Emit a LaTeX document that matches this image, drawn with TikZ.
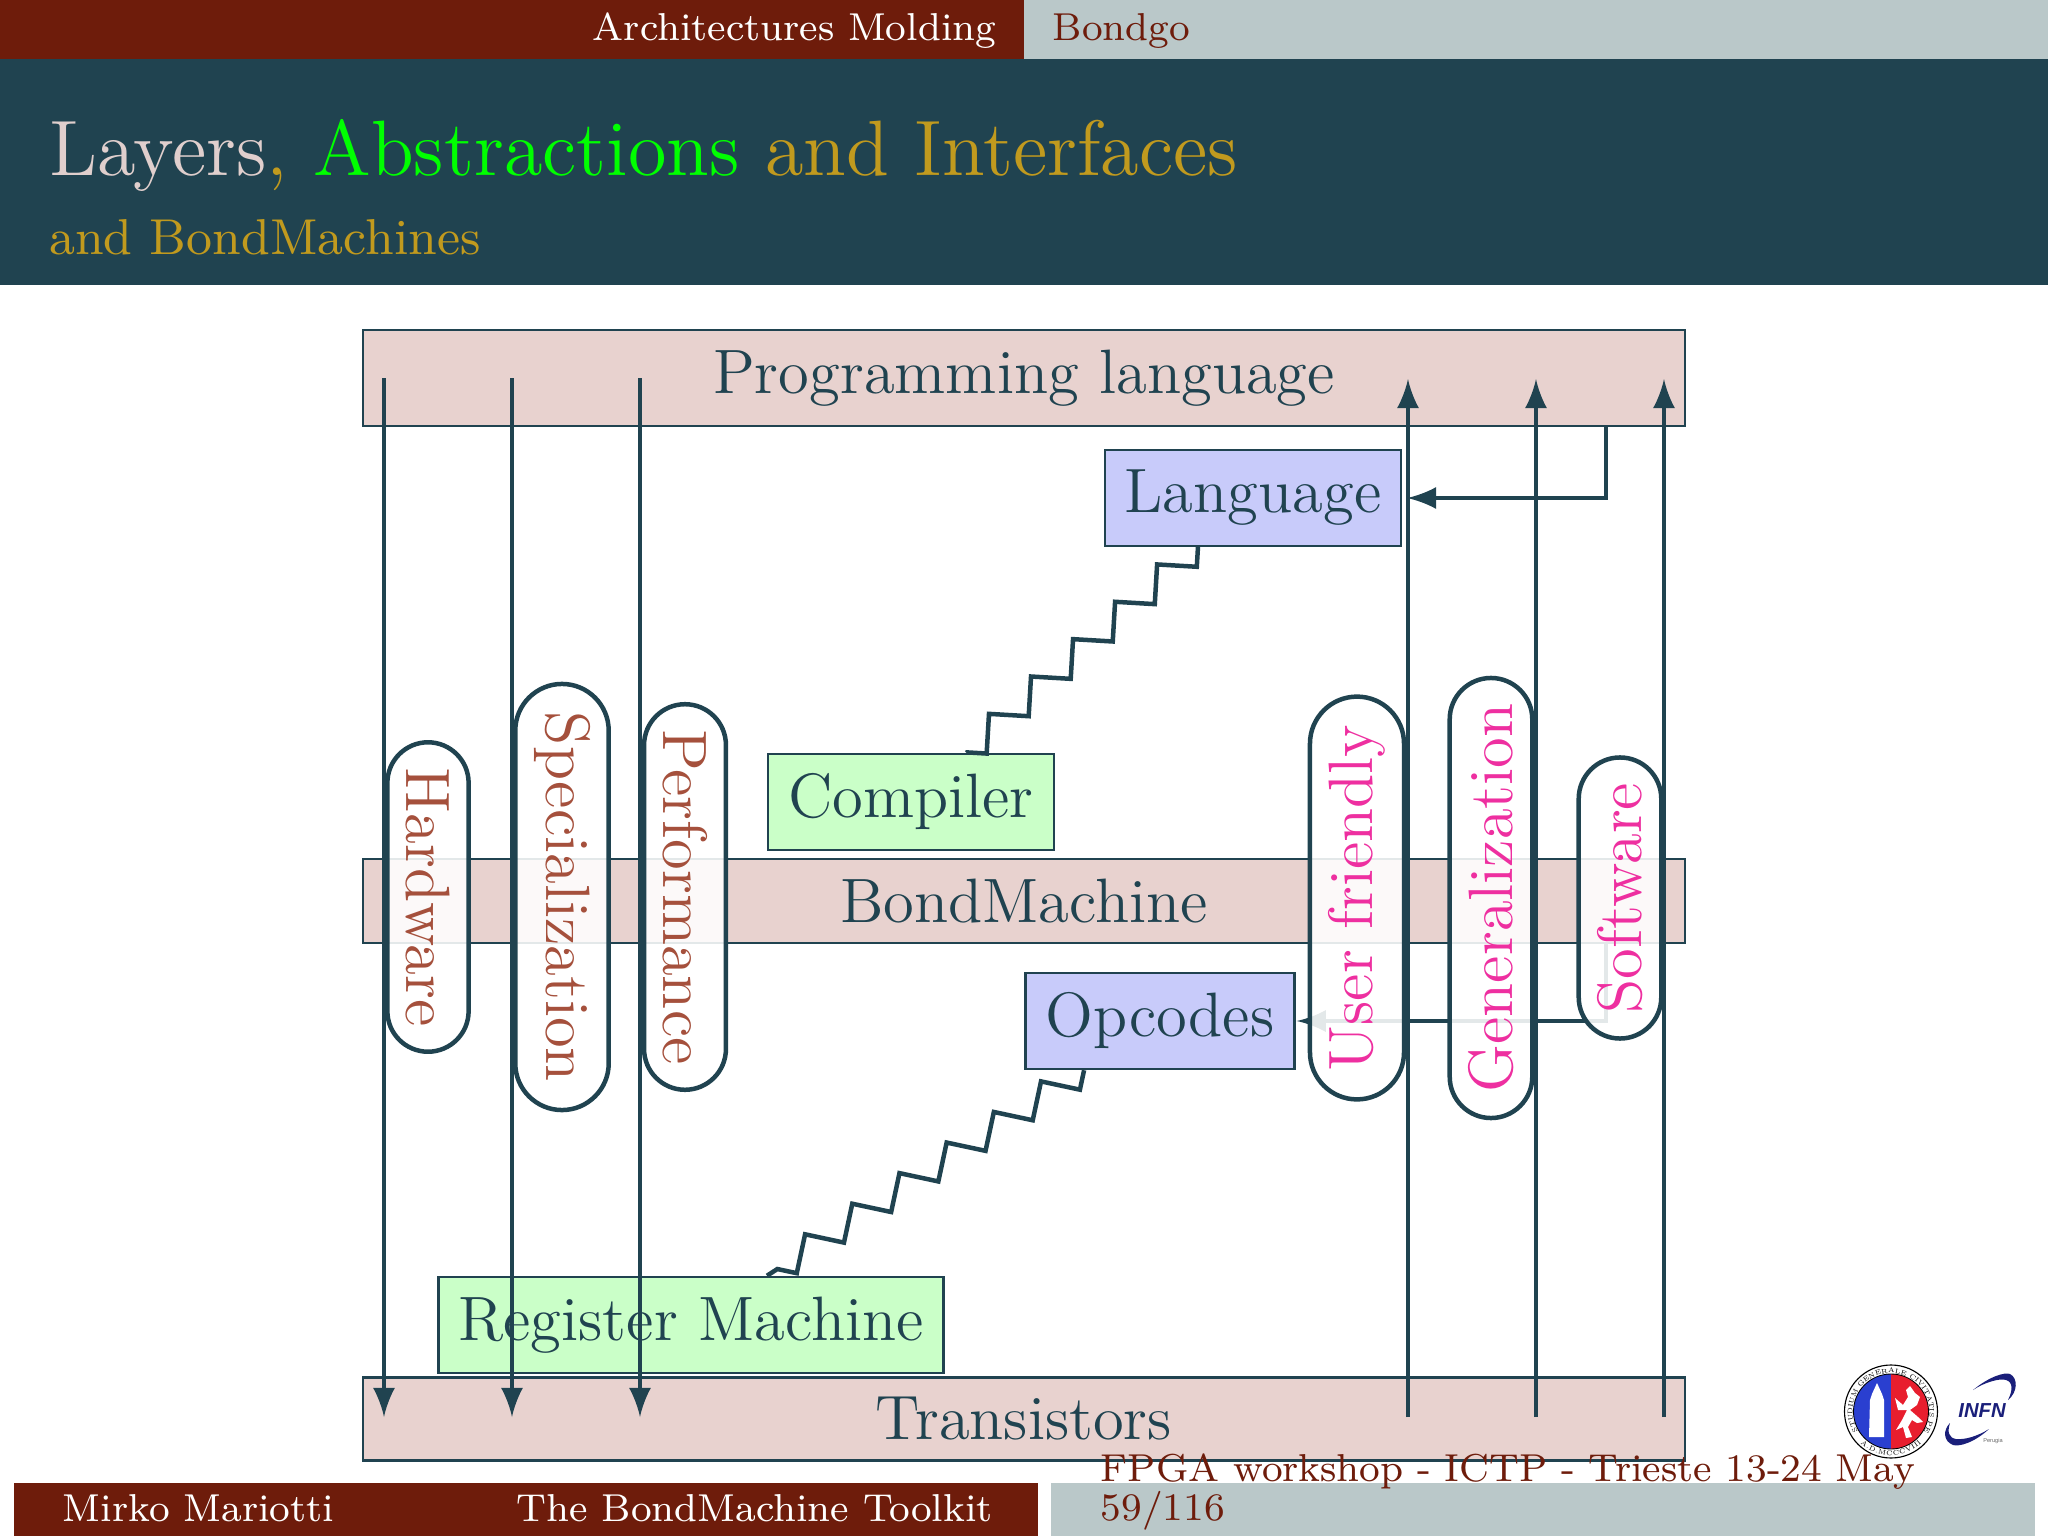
\documentclass[tikz,border=0pt]{standalone}
\usepackage{fontspec}
\usetikzlibrary{shapes.misc,decorations.pathmorphing,decorations.text}
\newfontfamily\logofont{Liberation Sans}

\definecolor{barred}{HTML}{6E1C0B}
\definecolor{bargrey}{HTML}{BAC8C9}
\definecolor{teal}{HTML}{204350}
\definecolor{layerpink}{HTML}{E8D2CF}
\definecolor{bluebox}{HTML}{C8CBFA}
\definecolor{greenbox}{HTML}{CAFFC8}
\definecolor{titlerose}{HTML}{E0CFCD}
\definecolor{titlegold}{HTML}{C19A1E}
\definecolor{hwtext}{HTML}{A5503C}
\definecolor{swtext}{HTML}{EE2FA0}
\definecolor{sealblue}{HTML}{2A3FD0}
\definecolor{sealred}{HTML}{E81E2E}
\definecolor{infnblue}{HTML}{1A1F7A}

\tikzset{
    boxfont/.style={font=\fontsize{11.15}{13}\selectfont, inner sep=3.55pt},
    layer/.style={draw=teal, thin, fill=layerpink, text=teal, boxfont, minimum width=1322*0.0625mm},
    upper/.style={draw=teal, thin, fill=bluebox, text=teal, boxfont},
    lower/.style={draw=teal, thin, fill=greenbox, text=teal, boxfont},
    pill/.style={draw=teal, thick, fill=white, fill opacity=0.88, text opacity=1, draw opacity=1, boxfont,
        inner sep=3.3pt, rounded rectangle, rounded rectangle arc length=180},
    hwpill/.style={pill, rotate=-90, text=hwtext},
    swpill/.style={pill, rotate=90, text=swtext},
    link/.style={draw=teal, thick, -latex},
    stairs/.style={draw=teal, thick, decorate, decoration=zigzag},
    bartext/.style={font=\fontsize{8}{10}\selectfont, scale=0.865, anchor=base west, inner sep=0pt},
}

\begin{document}
\begin{tikzpicture}[x=0.0625mm, y=-0.0625mm]
    \useasboundingbox (0,0) rectangle (2048,1536);

    % header
    \fill[barred] (0,0) rectangle (1024,59);
    \fill[bargrey] (1024,0) rectangle (2048,59);
    \fill[teal] (0,59) rectangle (2048,285);
    \node[bartext, text=white](section)at(592,40.5){Architectures Molding};
    \node[bartext, text=barred](subsection)at(1052,40.5){Bondgo};
    \node[anchor=base west, inner sep=0pt, font=\fontsize{13.97}{17}\selectfont, text=titlegold](title)at(48,175){\textcolor{titlerose}{Layers}, \textcolor{green}{Abstractions} and Interfaces};
    \node[anchor=base west, inner sep=0pt, font=\fontsize{8.97}{11}\selectfont, text=titlegold](subtitle)at(48,254){and BondMachines};

    % layers
    \node[layer](prog)at(1024,378){Programming language};
    \node[layer](bond)at(1024,901){BondMachine};
    \node[layer](trans)at(1024,1419){Transistors};

    \node[upper](language)at(1253,498){Language};
    \node[lower](compiler)at(911,802){Compiler};
    \node[upper](opcodes)at(1160,1021){Opcodes};
    \node[lower](regmachine)at(691,1325){Register Machine};

    \draw[stairs] (language) -- (compiler);
    \draw[stairs] (opcodes) -- (regmachine);

    % vertical arrows
    \foreach \x in {384,512,640}{
        \draw[link] (\x,378) -- (\x,1417);
    }
    \foreach \x in {1408,1536,1664}{
        \draw[link] (\x,1417) -- (\x,379);
    }
    \draw[link, shorten >=0.8pt] (prog.south -| 1606,0) |- (language.east);
    \draw[link, shorten >=0.2pt] (bond.south -| 1606,0) |- (opcodes.east);

    % side labels
    \node[hwpill](hardware)at(428,897){Hardware};
    \node[hwpill](special)at(562,897){Specialization};
    \node[hwpill](perform)at(685,897){Performance};
    \node[swpill](friendly)at(1357,898){User friendly};
    \node[swpill](general)at(1491,898){Generalization};
    \node[swpill](software)at(1620,898){Software};

    % footer
    \fill[barred] (14,1483) rectangle (1038,1536);
    \fill[bargrey] (1051,1483) rectangle (2035,1536);
    \node[bartext, text=white](author)at(62,1521.5){Mirko Mariotti};
    \node[bartext, text=white](talk)at(516,1521.5){The BondMachine Toolkit};
    \node[bartext, text=barred](event)at(1100,1481.5){FPGA workshop - ICTP - Trieste 13-24 May};
    \node[bartext, text=barred](page)at(1100,1520.5){59/116};

    % university seal
    \fill[sealblue] (1891,1449) arc (90:270:37.5) -- cycle;
    \fill[sealred] (1891,1449) arc (90:-90:37.5) -- cycle;
    \draw[black, line width=0.15pt] (1891,1411.5) circle (37.5);
    \draw[black, line width=0.2pt] (1891,1411.5) circle (46.5);
    \fill[white] (1877,1383) -- (1882,1394) -- (1884,1400) -- (1884,1437) -- (1869,1437) -- (1870,1400) -- (1872,1394) -- cycle;
    \fill[white] (1910,1386) -- (1915,1393) -- (1920,1397) -- (1917,1405) -- (1910,1410) -- (1918,1417) -- (1923,1422)
        -- (1917,1423) -- (1912,1420) -- (1908,1427) -- (1912,1437) -- (1906,1438) -- (1903,1427) -- (1896,1430)
        -- (1902,1420) -- (1907,1410) -- (1898,1410) -- (1895,1398) -- (1903,1405) -- (1908,1397) -- (1906,1390) -- cycle;
    \path[decorate, decoration={text along path, text align={fit to path},
        text={|\fontsize{1.2}{1.4}\selectfont|STUDIUM GENERALE CIVITATIS PERUSII}}]
        (1891,1411.5) ++(-211:38.5) arc (-211:31:38.5);
    \path[decorate, decoration={text along path, text align={fit to path},
        text={|\fontsize{1.2}{1.4}\selectfont|A.D.MCCCVIII}}]
        (1891,1411.5) ++(134:44) arc (134:46:44);

    % infn logo
    \fill[infnblue] (1973,1390) .. controls (1990,1376) and (2005,1372) .. (2010,1374)
        .. controls (2018,1378) and (2018,1392) .. (2008,1400)
        .. controls (2013,1390) and (2013,1382) .. (2006,1380)
        .. controls (2000,1378) and (1985,1382) .. (1973,1390);
    \fill[infnblue] (1989,1429) .. controls (1975,1442) and (1960,1447) .. (1953,1445)
        .. controls (1943,1441) and (1943,1430) .. (1950,1423)
        .. controls (1947,1432) and (1949,1438) .. (1956,1439)
        .. controls (1965,1440) and (1978,1436) .. (1989,1429);
    \node[inner sep=0pt, text=infnblue, font=\logofont\bfseries\itshape\fontsize{3.6}{4}\selectfont](infn)at(1982,1411){INFN};
    \node[inner sep=0pt, text=black!60, font=\logofont\fontsize{1}{1.2}\selectfont](perugia)at(1993,1441){Perugia};
\end{tikzpicture}
\end{document}
